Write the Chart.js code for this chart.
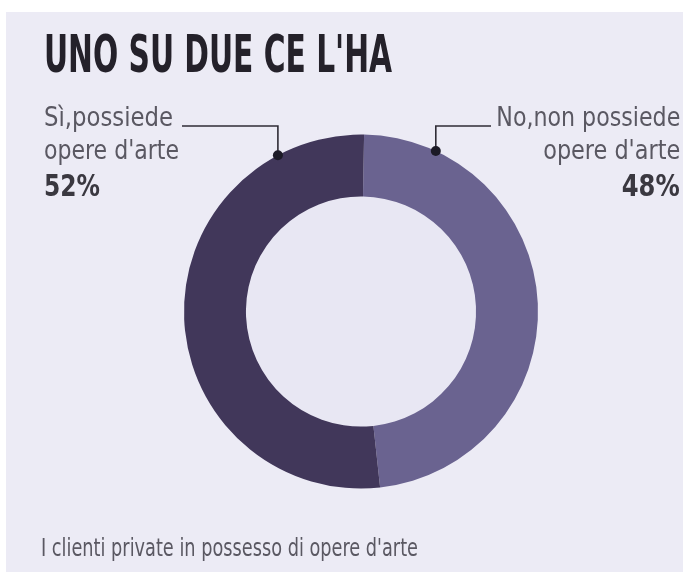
<!DOCTYPE html>
<html>
<head>
<meta charset="utf-8">
<script src="https://cdn.jsdelivr.net/npm/chart.js@4/dist/chart.umd.min.js"></script>
<style>
  html,body{margin:0;padding:0;background:#ffffff;}
  #page{position:absolute;left:0;top:0;width:683px;height:572px;overflow:hidden;background:#ffffff;}
  #panel{position:absolute;left:6px;top:12px;width:677px;height:560px;background:#ecebf5;}
  #c{position:absolute;left:0;top:0;}
  .t{position:absolute;white-space:nowrap;font-family:"Liberation Sans Narrow","DejaVu Sans Condensed","Roboto Condensed",sans-serif;line-height:1;}
  #title{left:44px;top:29px;font-size:51px;font-weight:bold;color:#24212a;transform-origin:0 0;}
  .lbl{font-size:26px;color:#5a5862;}
  .pct{font-size:31px;font-weight:bold;color:#3a3840;}
  .L{transform-origin:0 0;}
  .R{transform-origin:100% 0;}
  #foot{left:41px;top:535px;font-size:25px;color:#5a5862;transform-origin:0 0;}
</style>
</head>
<body>
<div id="page">
  <div id="panel"></div>
  <canvas id="c" width="683" height="572"></canvas>
  <div id="title" class="t">UNO SU DUE CE L'HA</div>
  <div id="l1" class="t lbl L" style="left:44px;top:104px;">Sì,possiede</div>
  <div id="l2" class="t lbl L" style="left:44px;top:137px;">opere d'arte</div>
  <div id="l3" class="t pct L" style="left:44px;top:170px;">52%</div>
  <div id="r1" class="t lbl R" style="right:3px;top:104px;">No,non possiede</div>
  <div id="r2" class="t lbl R" style="right:3px;top:137px;">opere d'arte</div>
  <div id="r3" class="t pct R" style="right:3px;top:170px;">48%</div>
  <div id="foot" class="t">I clienti private in possesso di opere d'arte</div>
</div>
<script>
// ---- data ----
const categories = ["No, non possiede opere d'arte", "Sì, possiede opere d'arte"];
const shares = [48, 52];

// fit text widths (layout helper)
function fitWidth(id, target){
  const el = document.getElementById(id);
  const w = el.getBoundingClientRect().width;
  el.style.transform = 'scaleX(' + (target / w) + ')';
}
fitWidth('title', 348);
fitWidth('foot', 377);
fitWidth('l1', 129);
fitWidth('l2', 135);
fitWidth('l3', 56);
fitWidth('r1', 184);
fitWidth('r2', 137);
fitWidth('r3', 58);

const leaderPlugin = {
  id: 'leaders',
  afterDatasetsDraw(chart){
    const ctx = chart.ctx;
    const meta = chart.getDatasetMeta(0);
    const specs = [
      {idx: 1, ang: -28, elbowY: 126, endX: 182},
      {idx: 0, ang: 25,  elbowY: 126, endX: 491}
    ];
    ctx.save();
    specs.forEach(s => {
      const arc = meta.data[s.idx];
      const r = arc.outerRadius;
      const a = s.ang * Math.PI / 180;
      const dx = arc.x + r * Math.sin(a);
      const dy = arc.y - r * Math.cos(a);
      ctx.strokeStyle = '#2f2c36';
      ctx.lineWidth = 1.6;
      ctx.beginPath();
      ctx.moveTo(s.endX, s.elbowY);
      ctx.lineTo(dx, s.elbowY);
      ctx.lineTo(dx, dy);
      ctx.stroke();
      ctx.fillStyle = '#1c1a26';
      ctx.beginPath();
      ctx.arc(dx, dy, 5, 0, Math.PI * 2);
      ctx.fill();
    });
    ctx.restore();
  }
};

const innerFill = {
  id: 'innerFill',
  beforeDatasetsDraw(chart){
    const arc = chart.getDatasetMeta(0).data[0];
    const ctx = chart.ctx;
    ctx.save();
    ctx.fillStyle = '#e8e7f3';
    ctx.beginPath();
    ctx.arc(arc.x, arc.y, arc.innerRadius, 0, Math.PI * 2);
    ctx.fill();
    ctx.restore();
  }
};

new Chart(document.getElementById('c'), {
  type: 'doughnut',
  data: {
    labels: categories,
    datasets: [{
      data: shares,
      backgroundColor: ['#6a6390', '#41375a'],
      borderWidth: 0
    }]
  },
  options: {
    responsive: false,
    animation: false,
    cutout: '65%',
    rotation: 1,
    layout: {padding: {left: 184, right: 145, top: 134, bottom: 83}},
    plugins: {legend: {display: false}, tooltip: {enabled: false}}
  },
  plugins: [innerFill, leaderPlugin]
});
</script>
</body>
</html>
